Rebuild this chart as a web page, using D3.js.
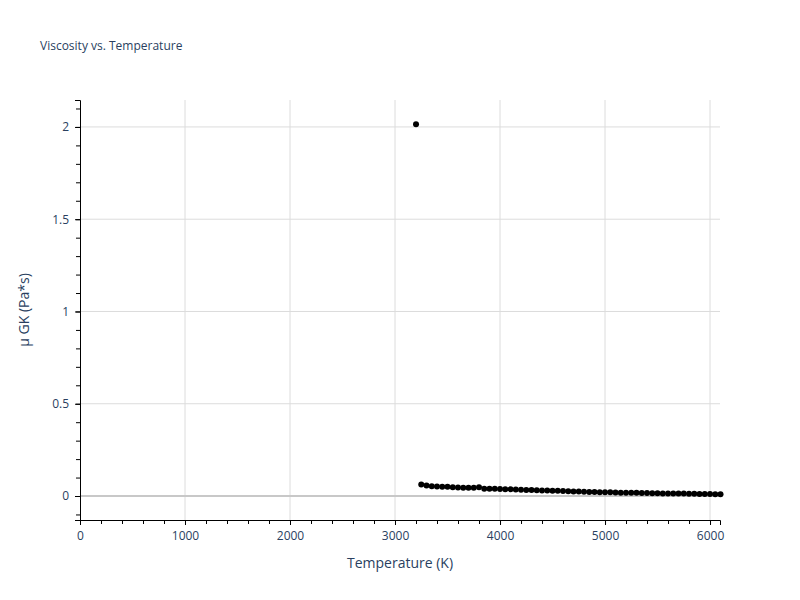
<!DOCTYPE html>
<html>
<head>
<script src="https://cdn.jsdelivr.net/npm/d3@7"></script>
<style>
  body { margin: 0; background: #fff; }
  text { font-family: "Open Sans", sans-serif; }
</style>
</head>
<body>
<div id="root"></div>
<script>
// data
var outlierTemp = [3200];
var outlierVisc = [2.015];
var temps = [3250, 3300, 3350, 3400, 3450, 3500, 3550, 3600, 3650, 3700, 3750, 3800,
  3850, 3900, 3950, 4000, 4050, 4100, 4150, 4200, 4250, 4300, 4350, 4400, 4450, 4500,
  4550, 4600, 4650, 4700, 4750, 4800, 4850, 4900, 4950, 5000, 5050, 5100, 5150, 5200,
  5250, 5300, 5350, 5400, 5450, 5500, 5550, 5600, 5650, 5700, 5750, 5800, 5850, 5900,
  5950, 6000, 6050, 6100];
var visc = [0.062, 0.057, 0.053, 0.051, 0.050, 0.050, 0.048, 0.046, 0.045, 0.045, 0.045, 0.048,
  0.040, 0.040, 0.039, 0.038, 0.037, 0.036, 0.035, 0.034, 0.033, 0.032, 0.031, 0.030, 0.030, 0.029,
  0.028, 0.027, 0.026, 0.025, 0.024, 0.023, 0.022, 0.022, 0.021, 0.020, 0.020, 0.019, 0.018, 0.018,
  0.017, 0.017, 0.016, 0.016, 0.015, 0.015, 0.014, 0.014, 0.013, 0.013, 0.013, 0.012, 0.012, 0.011,
  0.011, 0.011, 0.010, 0.010];
var xTicks = [0, 1000, 2000, 3000, 4000, 5000, 6000];
var yTicks = [0, 0.5, 1, 1.5, 2];

var points = outlierTemp.map(function (t, i) { return {t: t, v: outlierVisc[i]}; })
  .concat(temps.map(function (t, i) { return {t: t, v: visc[i]}; }));

var svg = d3.select('#root').append('svg').attr('width', 800).attr('height', 600);
var L = 80, R = 720, T = 100, B = 520;
var x = d3.scaleLinear().domain([0, 6095]).range([L, R]);
var y = d3.scaleLinear().domain([-0.13, 2.146]).range([B, T]);

svg.append('text').attr('x', 40).attr('y', 50).attr('font-size', 12)
  .attr('fill', '#2a3f5f').text('Viscosity vs. Temperature');

// grid
svg.append('g').selectAll('line').data(xTicks.slice(1)).join('line')
  .attr('x1', x).attr('x2', x).attr('y1', T).attr('y2', B)
  .attr('stroke', '#dcdcdc');
svg.append('g').selectAll('line').data(yTicks).join('line')
  .attr('x1', L).attr('x2', R).attr('y1', y).attr('y2', y)
  .attr('stroke', function (d) { return d === 0 ? '#c8c8c8' : '#dcdcdc'; })
  .attr('stroke-width', function (d) { return d === 0 ? 2 : 1; });

// axes
var xAxis = svg.append('g').attr('transform', 'translate(0,' + B + ')')
  .call(d3.axisBottom(x).tickValues(xTicks).tickSize(5).tickPadding(6).tickFormat(d3.format('d')));
var xMinor = svg.append('g').attr('transform', 'translate(0,' + B + ')')
  .call(d3.axisBottom(x).tickValues(d3.range(200, 6095, 200)).tickSize(4).tickFormat(''));
var yAxis = svg.append('g').attr('transform', 'translate(' + L + ',0)')
  .call(d3.axisLeft(y).tickValues(yTicks).tickSize(5).tickPadding(6).tickFormat(d3.format('')));
var yMinor = svg.append('g').attr('transform', 'translate(' + L + ',0)')
  .call(d3.axisLeft(y).tickValues(d3.range(-0.1, 2.15, 0.1)).tickSize(4).tickFormat(''));
[xAxis, xMinor, yAxis, yMinor].forEach(function (g) {
  g.select('.domain').attr('stroke', '#000');
  g.selectAll('line').attr('stroke', '#000');
  g.selectAll('text').attr('font-size', 12).attr('fill', '#2a3f5f')
    .attr('font-family', '"Open Sans", sans-serif');
});
xMinor.select('.domain').remove();
yMinor.select('.domain').remove();

svg.append('text').attr('x', (L + R) / 2).attr('y', 568).attr('text-anchor', 'middle')
  .attr('font-size', 14).attr('fill', '#2a3f5f').text('Temperature (K)');
svg.append('text').attr('transform', 'translate(29,' + (T + B) / 2 + ') rotate(-90)')
  .attr('text-anchor', 'middle').attr('font-size', 14).attr('fill', '#2a3f5f').text('μ GK (Pa*s)');

// points
svg.append('g').selectAll('circle').data(points).join('circle')
  .attr('cx', function (d) { return x(d.t); })
  .attr('cy', function (d) { return y(d.v); })
  .attr('r', 3).attr('fill', '#000');
</script>
</body>
</html>
